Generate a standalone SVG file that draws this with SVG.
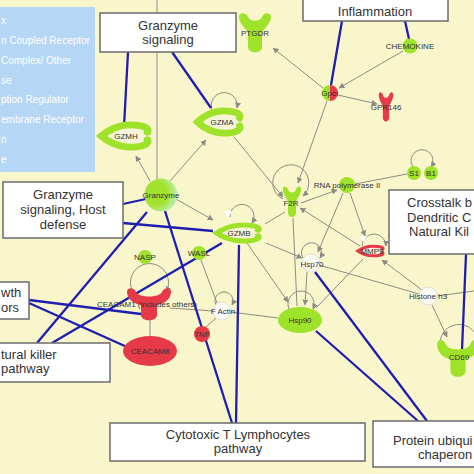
<svg xmlns="http://www.w3.org/2000/svg" xmlns:xlink="http://www.w3.org/1999/xlink" width="474" height="474" viewBox="0 0 474 474">
<defs>
<style>
.lbl{font-family:"Liberation Sans",Arial,sans-serif;font-size:8px;fill:#333;text-anchor:middle}
.box{fill:#fff;stroke:#6b6b6b;stroke-width:1.5}
.bt{font-family:"Liberation Sans",Arial,sans-serif;font-size:13px;fill:#333}
.leg{font-family:"Liberation Sans",Arial,sans-serif;font-size:10px;fill:#fff}
.g{stroke:#8c8c82;stroke-width:1;fill:none}
.ga{stroke:#8c8c82;stroke-width:1;fill:none;marker-end:url(#ah)}
.b{stroke:#1e1eb0;stroke-width:2.3;fill:none}
.grn{fill:#9fe22a}
.red{fill:#e63a48}
.wht{fill:#fbfbf6;stroke:#d8d8d0;stroke-width:0.8}
.pep{fill:#f6f4d6;stroke-width:7;stroke-linejoin:miter;stroke-linecap:round}
</style>
<marker id="ah" viewBox="0 0 10 10" refX="9" refY="5" markerWidth="6" markerHeight="6" orient="auto" markerUnits="userSpaceOnUse">
<path d="M0,0 L10,5 L0,10 Z" fill="#8c8c82"/>
</marker>
<path id="pepP" d="M20,-4 C22,-9 14,-11.5 4,-11.5 C-8,-11.5 -18,-5 -23,0 C-18,5 -8,11.5 4,11.5 C14,11.5 22,9 20,4"/>
<path id="gpcrP" d="M-16,-16 C-16,-21 -9,-21 -7,-16 C-5,-11 5,-11 7,-16 C9,-21 16,-21 16,-16 C16,-9 8,-4 7,0 L7,14 C7,21 -7,21 -7,14 L-7,0 C-8,-4 -16,-9 -16,-16 Z"/>
<path id="tmP" d="M-22,-12 C-22,-17 -15,-17 -13,-12 C-10,-6 10,-6 13,-12 C15,-17 22,-17 22,-12 C22,-4 14,0 8,1 L8,11 C8,18 -8,18 -8,11 L-8,1 C-14,0 -22,-4 -22,-12 Z"/>
<radialGradient id="granz" cx="0.35" cy="0.45" r="0.7">
<stop offset="0.5" stop-color="#a2e22e"/>
<stop offset="1" stop-color="#c4f0d2"/>
</radialGradient>
<linearGradient id="half" x1="0" y1="0" x2="1" y2="0">
<stop offset="0.5" stop-color="#9fe22a"/>
<stop offset="0.5" stop-color="#e63a48"/>
</linearGradient>
</defs>

<rect x="0" y="0" width="474" height="474" fill="#faf6cc"/>

<g id="legend">
<rect x="0" y="7" width="95" height="165" fill="#b6d6f6"/>
<text class="leg" x="1" y="23.5">x</text>
<text class="leg" x="1" y="43.5">n Coupled Receptor</text>
<text class="leg" x="1" y="63.5">Complex/ Other</text>
<text class="leg" x="1" y="83.5">se</text>
<text class="leg" x="1" y="103">ption Regulator</text>
<text class="leg" x="1" y="123">embrane Receptor</text>
<text class="leg" x="1" y="143">n</text>
<text class="leg" x="1" y="163">e</text>
</g>

<g id="connectors">
<path class="ga" d="M150,181 L136,156"/>
<path class="ga" d="M170,181 L206,140"/>
<path class="g" d="M157,0 L157,179"/>
<path class="ga" d="M234,137 L283,197"/>
<path class="ga" d="M327,101 L298,183"/>
<path class="ga" d="M323,88 L273,48"/>
<path class="ga" d="M403,51 L339,88"/>
<path class="ga" d="M338,95 L377,104"/>
<path class="ga" d="M301,203 L337,190"/>
<path class="ga" d="M343,193 L318,252"/>
<path class="ga" d="M350,193 L365,236"/>
<path class="g" d="M407,174 L355,184"/>
<path class="ga" d="M360,246 L300,208"/>
<path class="g" d="M265,224 L285,212"/>
<path class="g" d="M293,218 L297,306"/>
<path class="ga" d="M266,243 L302,258"/>
<path class="ga" d="M247,243 L288,302"/>
<path class="ga" d="M176,199 L213,220"/>
<path class="ga" d="M307,272 L305,305"/>
<path class="g" d="M363,259 L316,308"/>
<path class="g" d="M319,265 L419,294"/>
<path class="ga" d="M422,290 L382,260"/>
<path class="g" d="M437,296 L474,291"/>
<path class="ga" d="M432,305 L447,337"/>
<path class="g" d="M170,308 L213,311"/>
<path class="g" d="M231,312 L278,318"/>
<path class="g" d="M201,260 L217,303"/>
<path class="g" d="M206,327 L216,318"/>
<path class="g" d="M150,320 L150,336"/>
<path class="ga" d="M212,110 A13,13 0 1 1 237,108"/>
<path class="ga" d="M230,217 A12,12 0 1 1 252,223"/>
<path class="ga" d="M283,199 A18,18 0 1 1 303,196"/>
<path class="ga" d="M303,258 A10,10 0 1 1 320,258"/>
<path class="ga" d="M362,246 A12,12 0 1 1 386,246"/>
<path class="ga" d="M133,292 A19,19 0 1 1 166,292"/>
<path class="ga" d="M216,305 A9,9 0 1 1 232,305"/>
<path class="ga" d="M442,352 A19,19 0 1 1 476,352"/>
<path class="ga" d="M289,309 A13,13 0 1 1 313,309"/>
<path class="ga" d="M413,167 A11,11 0 1 1 431,167"/>
<path class="b" d="M128,52 L124,127"/>
<path class="b" d="M172,52 L211,108"/>
<path class="b" d="M342,21 L331,85"/>
<path class="b" d="M405,21 L409,39"/>
<path class="b" d="M123,204 L146,199"/>
<path class="b" d="M123,223 L213,231"/>
<path class="b" d="M147,212 L37,343"/>
<path class="b" d="M222,243 L52,343"/>
<path class="b" d="M29,300 L141,314"/>
<path class="b" d="M29,303 L127,347"/>
<path class="b" d="M165,211 L232,423"/>
<path class="b" d="M239,245 L236,423"/>
<path class="b" d="M315,272 L427,421"/>
<path class="b" d="M316,331 L418,421"/>
<path class="b" d="M466,254 L462,350"/>
</g>

<g id="GZMH"><use href="#pepP" class="pep" stroke="#9fe22a" transform="translate(126,136) scale(1.07,0.97)"/><text class="lbl" x="126" y="139">GZMH</text></g>
<g id="GZMA"><use href="#pepP" class="pep" stroke="#9fe22a" transform="translate(220,122) scale(0.98,0.97)"/><text class="lbl" x="222" y="125">GZMA</text></g>
<g id="GZMB"><use href="#pepP" class="pep" stroke="#9fe22a" transform="translate(239,233) scale(0.96,0.7)"/><text class="lbl" x="239" y="236">GZMB</text><path d="M224,211 L232,211 L228,218 Z" fill="#fff"/></g>
<g id="MMP9"><use href="#pepP" class="pep" stroke="#e63a48" transform="translate(371,251) scale(0.57,0.42)"/><text class="lbl" x="372" y="254">MMP9</text><path d="M360,236 L367,236 L363,242 Z" fill="#fff"/></g>
<g id="PTGDR"><use href="#gpcrP" class="grn" transform="translate(255,33)"/><text class="lbl" x="255" y="36">PTGDR</text></g>
<g id="GPR146"><use href="#gpcrP" class="red" transform="translate(386,107) scale(0.45,0.75)"/><text class="lbl" x="386" y="110">GPR146</text></g>
<g id="F2R"><use href="#gpcrP" class="grn" transform="translate(292,202) scale(0.57,0.78)"/><text class="lbl" x="291" y="206">F2R</text></g>
<g id="CHEMOKINE"><circle cx="410" cy="46" r="7.5" class="grn"/><text class="lbl" x="410" y="49">CHEMOKINE</text></g>
<g id="Gpcr"><circle cx="330" cy="93" r="8" fill="url(#half)"/><text class="lbl" x="330" y="96">Gpcr</text></g>
<g id="RNApol"><circle cx="347" cy="185" r="8" class="grn"/><text class="lbl" x="347" y="188">RNA polymerase II</text></g>
<g id="S1B1"><circle cx="414" cy="173" r="7" class="grn"/><circle cx="431" cy="173" r="7" class="grn"/><text class="lbl" x="414" y="176">S1</text><text class="lbl" x="431" y="176">B1</text></g>
<g id="Granzyme"><circle cx="161" cy="195" r="16.5" fill="url(#granz)"/><text class="lbl" x="161" y="198">Granzyme</text></g>
<g id="WASL"><circle cx="199" cy="253" r="7" class="grn"/><text class="lbl" x="199" y="256">WASL</text></g>
<g id="NASP"><circle cx="145" cy="257" r="7" class="grn"/><text class="lbl" x="145" y="260">NASP</text></g>
<g id="CEACAM1"><use href="#tmP" class="red" transform="translate(149,304)"/><text class="lbl" x="147" y="307">CEACAM1 (includes others)</text></g>
<g id="CEACAM8"><ellipse cx="150" cy="351" rx="27" ry="15" class="red"/><text class="lbl" x="150" y="354">CEACAM8</text></g>
<g id="FActin"><circle cx="222" cy="311" r="9" class="wht"/><text class="lbl" x="223" y="314">F Actin</text></g>
<g id="TNF"><circle cx="202" cy="334" r="8" class="red"/><text class="lbl" x="202" y="337">TNF</text></g>
<g id="Hsp90"><ellipse cx="300" cy="320" rx="22" ry="13" class="grn"/><text class="lbl" x="300" y="323">Hsp90</text></g>
<g id="Hsp70"><circle cx="311" cy="263" r="9" class="wht"/><text class="lbl" x="312" y="267">Hsp70</text></g>
<g id="Histone"><circle cx="428" cy="296" r="9" class="wht"/><text class="lbl" x="428" y="299">Histone h3</text></g>
<g id="CD69"><use href="#tmP" class="grn" transform="translate(458,358) scale(0.95,1.15)"/><text class="lbl" x="459" y="360">CD69</text></g>

<g id="box-granzyme-signaling"><rect class="box" x="100" y="13" width="136" height="39"/><text class="bt" x="168" y="30" text-anchor="middle">Granzyme</text><text class="bt" x="168" y="44" text-anchor="middle">signaling</text></g>
<g id="box-inflammation"><rect class="box" x="303" y="-5" width="145" height="26"/><text class="bt" x="375" y="16" text-anchor="middle">Inflammation</text></g>
<g id="box-host-defense"><rect class="box" x="3" y="182" width="120" height="56"/><text class="bt" x="63" y="199" text-anchor="middle">Granzyme</text><text class="bt" x="63" y="214" text-anchor="middle">signaling, Host</text><text class="bt" x="63" y="229" text-anchor="middle">defense</text></g>
<g id="box-growth"><rect class="box" x="-10" y="282" width="39" height="37"/><text class="bt" x="1" y="297">wth</text><text class="bt" x="1" y="312">ors</text></g>
<g id="box-nk"><rect class="box" x="-10" y="343" width="120" height="39"/><text class="bt" x="1" y="359">tural killer</text><text class="bt" x="1" y="373">pathway</text></g>
<g id="box-ctl"><rect class="box" x="110" y="423" width="255" height="38"/><text class="bt" x="238" y="439" text-anchor="middle">Cytotoxic T Lymphocytes</text><text class="bt" x="238" y="453" text-anchor="middle">pathway</text></g>
<g id="box-protein"><rect class="box" x="373" y="421" width="110" height="46"/><text class="bt" x="393" y="445">Protein ubiqui</text><text class="bt" x="418" y="459">chaperon</text></g>
<g id="box-crosstalk"><rect class="box" x="389" y="190" width="95" height="64"/><text class="bt" x="407" y="207">Crosstalk b</text><text class="bt" x="407" y="222">Dendritic C</text><text class="bt" x="409" y="236">Natural Kil</text></g>
</svg>
